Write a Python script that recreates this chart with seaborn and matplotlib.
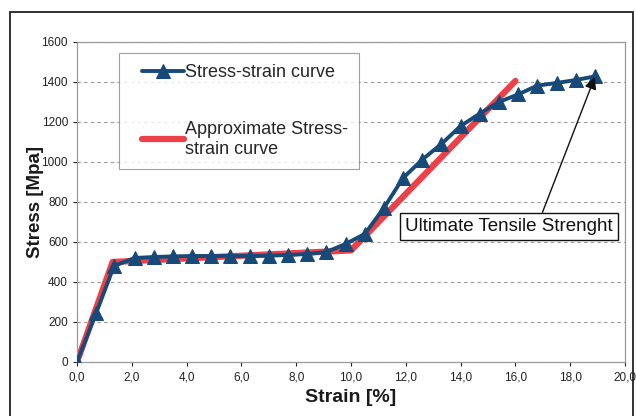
import matplotlib
matplotlib.use("Agg")
import matplotlib.pyplot as plt
import matplotlib.ticker as mticker
from matplotlib.patches import Rectangle
from matplotlib.lines import Line2D
from matplotlib.legend_handler import HandlerLine2D
import seaborn as sns
import pandas as pd

strain = [0.0, 0.7, 1.35, 2.1, 2.8, 3.5, 4.2, 4.9, 5.6, 6.3, 7.0, 7.7, 8.4, 9.1,
          9.8, 10.5, 11.2, 11.9, 12.6, 13.3, 14.0, 14.7, 15.4, 16.1, 16.8, 17.5, 18.2, 18.9]
stress = [0, 245, 480, 520, 525, 528, 530, 530, 530, 530, 532, 535, 540, 550,
          590, 640, 770, 920, 1012, 1090, 1180, 1242, 1300, 1338, 1382, 1395, 1410, 1428]

approx_strain = [0.0, 1.3, 10.0, 16.0]
approx_stress = [0, 500, 558, 1405]

x_ticks = [0, 2, 4, 6, 8, 10, 12, 14, 16, 18, 20]
y_ticks = [0, 200, 400, 600, 800, 1000, 1200, 1400, 1600]

sns.set_theme(style="white")
plt.rcParams['font.family'] = ['Liberation Sans', 'DejaVu Sans']

fig = plt.figure(figsize=(6.36, 4.16), dpi=100)
ax = fig.add_axes([77/636, 1-362/416, (625-77)/636, (362-42)/416])

df_a = pd.DataFrame({"x": approx_strain, "y": approx_stress})
df_s = pd.DataFrame({"x": strain, "y": stress})

sns.lineplot(data=df_a, x="x", y="y", ax=ax, color="#ee4049", lw=4.5,
             label="Approximate Stress-\nstrain curve", sort=False, zorder=2)
sns.lineplot(data=df_s, x="x", y="y", ax=ax, color="#174a78", lw=2.8,
             marker="^", markersize=10, markeredgecolor="#174a78",
             label="Stress-strain curve", sort=False, zorder=3)

ax.set_xlim(0, 20)
ax.set_ylim(0, 1600)
ax.set_xticks(x_ticks)
ax.set_yticks(y_ticks)
ax.xaxis.set_major_formatter(mticker.FuncFormatter(lambda v, p: f"{v:.1f}".replace(".", ",")))
ax.yaxis.set_major_formatter(mticker.FuncFormatter(lambda v, p: f"{int(v)}"))
ax.tick_params(axis="both", labelsize=8.5, colors="#222222", length=3, direction="out",
               bottom=True, left=True, width=0.8)
for lab in ax.get_xticklabels() + ax.get_yticklabels():
    lab.set_color("#222222")
ax.grid(axis="y", linestyle=(0, (3, 3)), color="#999999", lw=0.8)
for s in ax.spines.values():
    s.set_color("#9a9a9a")
    s.set_linewidth(0.9)

ax.set_xlabel("Strain [%]", fontsize=14, fontweight="bold", color="#1a1a1a", labelpad=4)
ax.set_ylabel("Stress [Mpa]", fontsize=13.5, fontweight="bold", color="#1a1a1a", labelpad=-1.5)

handles, labels = ax.get_legend_handles_labels()
order = [1, 0]
leg = ax.legend([handles[i] for i in order], [labels[i] for i in order],
                loc="upper left", bbox_to_anchor=((119-77)/548, (362-53)/320),
                fontsize=13, frameon=True, fancybox=False, edgecolor="#888888",
                borderpad=0.6, labelspacing=2.2, handlelength=3.0, handletextpad=0.05,
                borderaxespad=0,
                handler_map={Line2D: HandlerLine2D(xpad=0.7)})
leg.get_frame().set_linewidth(0.8)
for t in leg.get_texts():
    t.set_linespacing(1.25)

ax.annotate("Ultimate Tensile Strenght", xy=(18.9, 1425), xytext=(15.77, 677),
            fontsize=13.5, ha="center", va="center", color="#111111",
            bbox=dict(boxstyle="square,pad=0.28", fc="white", ec="#111111", lw=1),
            arrowprops=dict(arrowstyle="-|>", color="#111111", lw=1,
                            mutation_scale=18, shrinkA=0, shrinkB=0,
                            relpos=(0.65, 1.0)),
            zorder=5)

fig.patches.append(Rectangle((10/636, -0.05), (633-10)/636, 1.05-12/416,
                             transform=fig.transFigure, fill=False,
                             ec="#222222", lw=1.3))

fig.savefig("out.png", dpi=100, facecolor="white")
